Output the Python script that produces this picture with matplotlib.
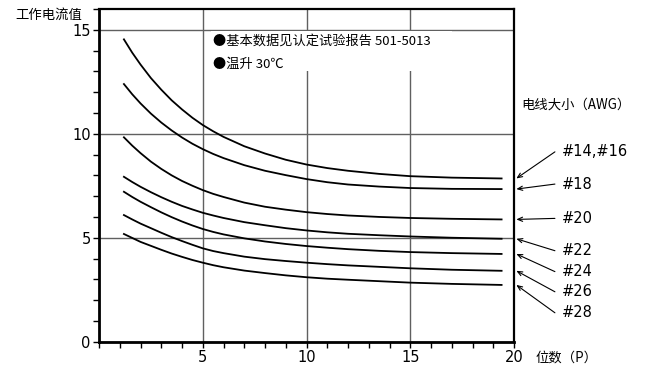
import matplotlib
matplotlib.use('Agg')
import matplotlib.pyplot as plt
from matplotlib.ticker import MultipleLocator
from matplotlib.patches import Rectangle

plt.rcParams['font.family'] = ['Noto Sans CJK SC', 'DejaVu Sans']
latin = ['DejaVu Sans', 'Noto Sans CJK SC']

# 位数 (P)
pins = [1.2, 1.6, 2, 2.5, 3, 3.5, 4, 4.5, 5, 5.5, 6, 7, 8, 9, 10, 11, 12, 13.5, 15, 17, 19.4]

# 工作电流值, one curve per wire size
awg_14_16 = [14.54, 13.90, 13.33, 12.68, 12.12, 11.61, 11.17, 10.77, 10.42, 10.12, 9.85,
             9.40, 9.05, 8.75, 8.52, 8.35, 8.22, 8.07, 7.96, 7.89, 7.85]
awg_18 = [12.39, 11.90, 11.46, 10.97, 10.54, 10.16, 9.82, 9.52, 9.26, 9.03, 8.83,
          8.49, 8.22, 8.01, 7.82, 7.67, 7.56, 7.46, 7.39, 7.35, 7.34]
awg_20 = [9.83, 9.43, 9.07, 8.66, 8.31, 8.00, 7.73, 7.50, 7.29, 7.11, 6.96,
          6.69, 6.49, 6.35, 6.23, 6.14, 6.07, 6.00, 5.95, 5.91, 5.88]
awg_22 = [7.93, 7.68, 7.45, 7.19, 6.95, 6.73, 6.53, 6.36, 6.20, 6.07, 5.95,
          5.75, 5.60, 5.46, 5.35, 5.26, 5.19, 5.12, 5.06, 5.00, 4.95]
awg_24 = [7.21, 6.96, 6.73, 6.47, 6.22, 5.99, 5.78, 5.59, 5.42, 5.28, 5.16,
          4.97, 4.82, 4.70, 4.60, 4.52, 4.45, 4.37, 4.31, 4.26, 4.22]
awg_26 = [6.09, 5.88, 5.68, 5.46, 5.24, 5.03, 4.84, 4.66, 4.49, 4.36, 4.26,
          4.09, 3.97, 3.88, 3.80, 3.73, 3.67, 3.60, 3.53, 3.46, 3.41]
awg_28 = [5.18, 4.99, 4.80, 4.61, 4.42, 4.24, 4.08, 3.93, 3.80, 3.68, 3.58,
          3.42, 3.30, 3.19, 3.10, 3.03, 2.98, 2.91, 2.84, 2.78, 2.73]

curves = [awg_14_16, awg_18, awg_20, awg_22, awg_24, awg_26, awg_28]
labels = ['#14,#16', '#18', '#20', '#22', '#24', '#26', '#28']
# vertical placement of the labels to the right of the plot
label_y = [9.13, 7.58, 5.93, 4.375, 3.37, 2.40, 1.39]

fig = plt.figure(figsize=(6.54, 3.69), dpi=100)
ax = fig.add_axes([0.1514, 0.074, 0.6346, 0.9016])

for vals in curves:
    ax.plot(pins, vals, color='black', lw=1.3, zorder=3, solid_joinstyle='round')

ax.set_xlim(0, 20)
ax.set_ylim(0, 16)
ax.xaxis.set_minor_locator(MultipleLocator(1))
ax.yaxis.set_major_locator(MultipleLocator(5))
ax.yaxis.set_minor_locator(MultipleLocator(1))
ax.set_xticks([0, 5, 10, 15, 20])
ax.set_xticklabels(['', '5', '10', '15', '20'])
ax.tick_params(which='both', length=4, width=1, color='black', direction='out')
ax.tick_params(axis='both', labelsize=10.5, pad=2)
for t in ax.get_xticklabels() + ax.get_yticklabels():
    t.set_family(latin)
ax.grid(True, which='major', color='#606060', lw=1)

for side in ['left', 'bottom']:
    ax.spines[side].set_linewidth(2)
for side in ['top', 'right']:
    ax.spines[side].set_linewidth(1.6)

# white box behind the notes
ax.add_patch(Rectangle((5.4, 13.0), 11.6, 1.92, facecolor='white', edgecolor='none', zorder=2))
ax.text(5.48, 14.46, '●基本数据见认定试验报告 501-5013', fontsize=9.5, va='center', ha='left', zorder=4)
ax.text(5.48, 13.35, '●温升 30℃', fontsize=9.5, va='center', ha='left', zorder=4)

# labels with arrows pointing at the curve ends
for vals, lab, ly in zip(curves, labels, label_y):
    ax.annotate('', xy=(20.11, vals[-1]), xytext=(21.97, ly),
                arrowprops=dict(arrowstyle='->,head_length=0.35,head_width=0.15',
                                lw=0.8, color='black', shrinkA=0, shrinkB=0),
                annotation_clip=False)
    ax.text(22.3, ly, lab, fontsize=10.5, family=latin, va='center', ha='left', clip_on=False)

fig.text(15 / 654, 1 - 15 / 369, '工作电流值', fontsize=9.6, va='center', ha='left')
fig.text(521 / 654, 1 - 105 / 369, '电线大小（AWG）', fontsize=9.6, va='center', ha='left')
fig.text(536 / 654, 1 - 358 / 369, '位数（P）', fontsize=9.6, va='center', ha='left')

fig.savefig('out.png', dpi=100)
plt.close(fig)
